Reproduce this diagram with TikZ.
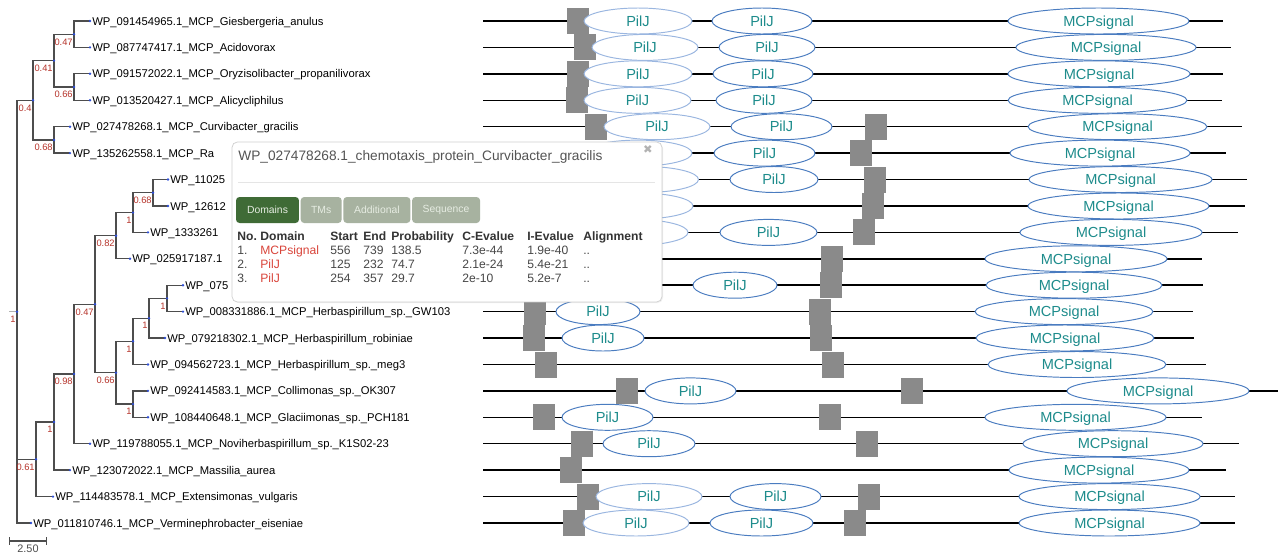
\documentclass[tikz,border=0pt]{standalone}
\usepackage{fontspec}
\setmainfont{Liberation Sans}
\newfontfamily\symfont{DejaVu Sans}
\usepackage{xcolor}
\usepackage{tikz}
\usetikzlibrary{positioning,arrows.meta,shapes.geometric,shadows}

\definecolor{treegray}{HTML}{4D4D4D}
\definecolor{dotblue}{HTML}{2F4FD6}
\definecolor{suppred}{HTML}{B5332A}
\definecolor{domblue}{HTML}{4A7CC0}
\definecolor{domlight}{HTML}{9AB6E0}
\definecolor{domteal}{HTML}{1E8C8C}
\definecolor{tmgray}{HTML}{8A8A8A}
\definecolor{popline}{HTML}{CFCFCF}
\definecolor{tabgreen}{HTML}{3F6B36}
\definecolor{tabgrey}{HTML}{A7B2A0}
\definecolor{tabtxt}{HTML}{E6ECE2}
\definecolor{celltxt}{HTML}{474747}
\definecolor{domred}{HTML}{D9443A}

% one row of the domain table, fixed column widths
\newcommand{\domrow}[8]{\makebox[0.46cm][l]{#1}\makebox[1.4cm][l]{#2}\makebox[0.66cm][l]{#3}\makebox[0.56cm][l]{#4}\makebox[1.42cm][l]{#5}\makebox[1.3cm][l]{#6}\makebox[1.12cm][l]{#7}#8}

\begin{document}
\begin{tikzpicture}[x=0.02cm, y=-0.02cm,
    branch/.style={draw=treegray, line width=0.7pt},
    supp/.style={anchor=north east, inner sep=0pt, xshift=-0.02cm, yshift=-0.08cm,
        text=suppred, font=\fontsize{5.3}{6}\selectfont},
    leaf/.style={anchor=base west, inner sep=0pt, xshift=0.04cm, yshift=-0.08cm,
        font=\fontsize{6.4}{7.5}\selectfont},
    prot/.style={draw=black, line width=0.85pt},
    tm/.style={fill=tmgray, minimum width=0.44cm, minimum height=0.52cm, inner sep=0pt},
    pilj/.style={ellipse, draw=domblue, fill=white, line width=0.55pt, text=domteal,
        minimum height=0.52cm, inner sep=0pt, text depth=0pt,
        font=\fontsize{8.3}{9}\selectfont},
    piljl/.style={pilj, draw=domlight},
    mcp/.style={pilj, minimum width=3.6cm},
    popbox/.style={draw=popline, fill=white, rounded corners=3pt, minimum width=8.6cm,
        minimum height=3.2cm, inner sep=0pt,
        drop shadow={opacity=0.12, shadow xshift=0.6pt, shadow yshift=-0.6pt}},
    tabon/.style={fill=tabgreen, text=tabtxt, rounded corners=2pt, minimum height=0.52cm,
        inner sep=0pt, font=\fontsize{5.9}{7}\selectfont},
    taboff/.style={tabon, fill=tabgrey},
    cell/.style={anchor=base west, inner sep=0pt, text=celltxt, font=\fontsize{6.9}{8}\selectfont}]

\useasboundingbox (0,0) rectangle (1278,555);

% Protein backbones
\coordinate (p1s) at (483,21);     \coordinate (p1e) at (1223,21);
\coordinate (p2s) at (483,47.4);   \coordinate (p2e) at (1231,47.4);
\coordinate (p3s) at (483,73.8);   \coordinate (p3e) at (1223,73.8);
\coordinate (p4s) at (483,100.3);  \coordinate (p4e) at (1222,100.3);
\coordinate (p5s) at (483,126.7);  \coordinate (p5e) at (1242,126.7);
\coordinate (p6s) at (483,153.1);  \coordinate (p6e) at (1226,153.1);
\coordinate (p7s) at (483,179.5);  \coordinate (p7e) at (1247,179.5);
\coordinate (p8s) at (483,206);    \coordinate (p8e) at (1245,206);
\coordinate (p9s) at (483,232.4);  \coordinate (p9e) at (1238,232.4);
\coordinate (p10s) at (483,258.8); \coordinate (p10e) at (1202,258.8);
\coordinate (p11s) at (483,285.2); \coordinate (p11e) at (1203,285.2);
\coordinate (p12s) at (483,311.6); \coordinate (p12e) at (1193,311.6);
\coordinate (p13s) at (483,338);   \coordinate (p13e) at (1194,338);
\coordinate (p14s) at (483,364.5); \coordinate (p14e) at (1206,364.5);
\coordinate (p15s) at (483,390.9); \coordinate (p15e) at (1278,390.9);
\coordinate (p16s) at (483,417.3); \coordinate (p16e) at (1202,417.3);
\coordinate (p17s) at (483,443.7); \coordinate (p17e) at (1239,443.7);
\coordinate (p18s) at (483,470.1); \coordinate (p18e) at (1226,470.1);
\coordinate (p19s) at (483,496.6); \coordinate (p19e) at (1235,496.6);
\coordinate (p20s) at (483,523);   \coordinate (p20e) at (1235,523);
\foreach \i in {1,...,20} {
    \draw[prot] (p\i s) -- (p\i e);
}

% Transmembrane segments (grey boxes)
\node[tm] (r1t) at (578,21) {};
\node[tm] (r2t) at (585,47.4) {};
\node[tm] (r3t) at (578,73.8) {};
\node[tm] (r4t) at (577,100.3) {};
\node[tm] (r5t) at (596,126.7) {};
\node[tm] (r5u) at (876,126.7) {};
\node[tm] (r6u) at (861,153.1) {};
\node[tm] (r7u) at (875,179.5) {};
\node[tm] (r8u) at (873,206) {};
\node[tm] (r9u) at (864,232.4) {};
\node[tm] (r10u) at (832,258.8) {};
\node[tm] (r11u) at (831,285.2) {};
\node[tm] (r12t) at (535,311.6) {};
\node[tm] (r12u) at (820,311.6) {};
\node[tm] (r13t) at (534,338) {};
\node[tm] (r13u) at (821,338) {};
\node[tm] (r14t) at (546,364.5) {};
\node[tm] (r14u) at (833,364.5) {};
\node[tm] (r15t) at (627,390.9) {};
\node[tm] (r15u) at (912,390.9) {};
\node[tm] (r16t) at (544,417.3) {};
\node[tm] (r16u) at (830,417.3) {};
\node[tm] (r17t) at (582,443.7) {};
\node[tm] (r17u) at (867,443.7) {};
\node[tm] (r18t) at (571,470.1) {};
\node[tm] (r19t) at (588,496.6) {};
\node[tm] (r19u) at (869,496.6) {};
\node[tm] (r20t) at (574,523) {};
\node[tm] (r20u) at (855,523) {};

% Domains
\node[piljl, minimum width=2.16cm] (r1a) at (638,21) {PilJ};
\node[pilj, minimum width=2.0cm] (r1b) at (762,21) {PilJ};
\node[mcp, minimum width=3.62cm] (r1m) at (1098.5,21) {MCPsignal};
\node[piljl, minimum width=2.12cm] (r2a) at (645,47.4) {PilJ};
\node[pilj, minimum width=1.92cm] (r2b) at (767,47.4) {PilJ};
\node[mcp] (r2m) at (1106,47.4) {MCPsignal};
\node[piljl, minimum width=2.16cm] (r3a) at (638,73.8) {PilJ};
\node[pilj, minimum width=2.0cm] (r3b) at (763,73.8) {PilJ};
\node[mcp, minimum width=3.64cm] (r3m) at (1099,73.8) {MCPsignal};
\node[piljl, minimum width=2.14cm] (r4a) at (637.5,100.3) {PilJ};
\node[pilj, minimum width=1.92cm] (r4b) at (764,100.3) {PilJ};
\node[mcp, minimum width=3.58cm] (r4m) at (1097.5,100.3) {MCPsignal};
\node[piljl, minimum width=2.12cm] (r5a) at (657,126.7) {PilJ};
\node[pilj, minimum width=2.02cm] (r5b) at (781.5,126.7) {PilJ};
\node[mcp, minimum width=3.58cm] (r5m) at (1117.5,126.7) {MCPsignal};
\node[piljl, minimum width=2.16cm] (r6a) at (638,153.1) {};
\node[pilj, minimum width=2.02cm] (r6b) at (764.5,153.1) {PilJ};
\node[mcp] (r6m) at (1100,153.1) {MCPsignal};
\node[piljl, minimum width=2.16cm] (r7a) at (644.5,179.5) {};
\node[pilj, minimum width=1.76cm] (r7b) at (774,179.5) {PilJ};
\node[mcp, minimum width=3.66cm] (r7m) at (1120.5,179.5) {MCPsignal};
\node[piljl, minimum width=2.16cm] (r8a) at (639,206) {};
\node[mcp, minimum width=3.62cm] (r8m) at (1118.5,206) {MCPsignal};
\node[piljl, minimum width=2.16cm] (r9a) at (634,232.4) {};
\node[pilj, minimum width=1.94cm] (r9b) at (768.5,232.4) {PilJ};
\node[mcp, minimum width=3.64cm] (r9m) at (1111,232.4) {MCPsignal};
\node[mcp, minimum width=3.64cm] (r10m) at (1076,258.8) {MCPsignal};
\node[pilj, minimum width=1.68cm] (r11a) at (735,285.2) {PilJ};
\node[mcp, minimum width=3.52cm] (r11m) at (1074,285.2) {MCPsignal};
\node[pilj, minimum width=1.68cm] (r12a) at (598,311.6) {PilJ};
\node[mcp, minimum width=3.56cm] (r12m) at (1064,311.6) {MCPsignal};
\node[pilj, minimum width=1.64cm] (r13a) at (603,338) {PilJ};
\node[mcp, minimum width=3.56cm] (r13m) at (1065,338) {MCPsignal};
\node[mcp, minimum width=3.56cm] (r14m) at (1077,364.5) {MCPsignal};
\node[pilj, minimum width=1.82cm] (r15a) at (690.5,390.9) {PilJ};
\node[mcp, minimum width=3.64cm] (r15m) at (1158,390.9) {MCPsignal};
\node[pilj, minimum width=1.82cm] (r16a) at (607.5,417.3) {PilJ};
\node[mcp, minimum width=3.62cm] (r16m) at (1075.5,417.3) {MCPsignal};
\node[pilj, minimum width=1.84cm] (r17a) at (649,443.7) {PilJ};
\node[mcp] (r17m) at (1113,443.7) {MCPsignal};
\node[mcp] (r18m) at (1099,470.1) {MCPsignal};
\node[piljl, minimum width=2.12cm] (r19a) at (649,496.6) {PilJ};
\node[pilj, minimum width=1.82cm] (r19b) at (775.5,496.6) {PilJ};
\node[mcp, minimum width=3.62cm] (r19m) at (1109.5,496.6) {MCPsignal};
\node[piljl, minimum width=2.12cm] (r20a) at (636,523) {PilJ};
\node[pilj, minimum width=2.06cm] (r20b) at (761.5,523) {PilJ};
\node[mcp, minimum width=3.62cm] (r20m) at (1109.5,523) {MCPsignal};

% Tree: leaves
\coordinate (l1) at (90,21);
\coordinate (l2) at (90,47.4);
\coordinate (l3) at (90,73.8);
\coordinate (l4) at (90,100.3);
\coordinate (l5) at (70,126.7);
\coordinate (l6) at (70,153.1);
\coordinate (l7) at (168,179.5);
\coordinate (l8) at (168,206);
\coordinate (l9) at (148,232.4);
\coordinate (l10) at (130,258.8);
\coordinate (l11) at (183,285.2);
\coordinate (l12) at (183,311.6);
\coordinate (l13) at (165,338);
\coordinate (l14) at (148,364.5);
\coordinate (l15) at (148,390.9);
\coordinate (l16) at (148,417.3);
\coordinate (l17) at (90,443.7);
\coordinate (l18) at (70,470.1);
\coordinate (l19) at (53,496.6);
\coordinate (l20) at (31,523);

% Tree: inner nodes
\coordinate (n12) at (74,34.2);
\coordinate (n34) at (74,87);
\coordinate (nA) at (54,60.6);
\coordinate (nB) at (54,140);
\coordinate (nC) at (33,100.3);
\coordinate (n78) at (153,192.8);
\coordinate (nD) at (133,212.6);
\coordinate (nE) at (116,235.7);
\coordinate (nF) at (167,298.4);
\coordinate (nG) at (149,318.2);
\coordinate (nH) at (133,341.3);
\coordinate (nI) at (133,404.1);
\coordinate (nJ) at (116,372.7);
\coordinate (nK) at (95,304.2);
\coordinate (nL) at (74,374);
\coordinate (nM) at (54,422);
\coordinate (nN) at (36,459.3);
\coordinate (root) at (17,311.7);
\coordinate (rstub) at (9,311.7);

% Tree: branches
\draw[branch] (n12) |- (l1);  \draw[branch] (n12) |- (l2);
\draw[branch] (n34) |- (l3);  \draw[branch] (n34) |- (l4);
\draw[branch] (nA) |- (n12);  \draw[branch] (nA) |- (n34);
\draw[branch] (nB) |- (l5);   \draw[branch] (nB) |- (l6);
\draw[branch] (nC) |- (nA);   \draw[branch] (nC) |- (nB);
\draw[branch] (n78) |- (l7);  \draw[branch] (n78) |- (l8);
\draw[branch] (nD) |- (n78);  \draw[branch] (nD) |- (l9);
\draw[branch] (nE) |- (nD);   \draw[branch] (nE) |- (l10);
\draw[branch] (nF) |- (l11);  \draw[branch] (nF) |- (l12);
\draw[branch] (nG) |- (nF);   \draw[branch] (nG) |- (l13);
\draw[branch] (nH) |- (nG);   \draw[branch] (nH) |- (l14);
\draw[branch] (nI) |- (l15);  \draw[branch] (nI) |- (l16);
\draw[branch] (nJ) |- (nH);   \draw[branch] (nJ) |- (nI);
\draw[branch] (nK) |- (nE);   \draw[branch] (nK) |- (nJ);
\draw[branch] (nL) |- (nK);   \draw[branch] (nL) |- (l17);
\draw[branch] (nM) |- (nL);   \draw[branch] (nM) |- (l18);
\draw[branch] (nN) |- (nM);   \draw[branch] (nN) |- (l19);
\draw[branch] (root) |- (nC); \draw[branch] (root) |- (nN);
\draw[branch] (root) |- (l20);
\draw[draw=gray!60, line width=0.6pt] (rstub) -- (root);

% node dots
\foreach \c in {l1,l2,l3,l4,l5,l6,l7,l8,l9,l10,l11,l12,l13,l14,l15,l16,l17,l18,l19,l20,
    n12,n34,nA,nB,nC,n78,nD,nE,nF,nG,nH,nI,nJ,nK,nL,nM,nN,root} {
    \fill[dotblue] (\c) circle (0.75pt);
}

% Support values
\node[supp] (s12) at (n12) {0.47};
\node[supp] (s34) at (n34) {0.66};
\node[supp] (sA) at (nA) {0.41};
\node[supp] (sB) at (nB) {0.68};
\node[supp] (sC) at (nC) {0.4};
\node[supp] (s78) at (n78) {0.68};
\node[supp] (sD) at (nD) {1};
\node[supp] (sE) at (nE) {0.82};
\node[supp] (sF) at (nF) {1};
\node[supp] (sG) at (nG) {1};
\node[supp] (sH) at (nH) {1};
\node[supp] (sI) at (nI) {1};
\node[supp] (sJ) at (nJ) {0.66};
\node[supp] (sK) at (nK) {0.47};
\node[supp] (sL) at (nL) {0.98};
\node[supp] (sM) at (nM) {1};
\node[supp] (sN) at (nN) {0.61};
\node[supp] (sroot) at (root) {1};

% Leaf names
\node[leaf] (t1) at (l1) {WP\_091454965.1\_MCP\_Giesbergeria\_anulus};
\node[leaf] (t2) at (l2) {WP\_087747417.1\_MCP\_Acidovorax};
\node[leaf] (t3) at (l3) {WP\_091572022.1\_MCP\_Oryzisolibacter\_propanilivorax};
\node[leaf] (t4) at (l4) {WP\_013520427.1\_MCP\_Alicycliphilus};
\node[leaf] (t5) at (l5) {WP\_027478268.1\_MCP\_Curvibacter\_gracilis};
\node[leaf] (t6) at (l6) {WP\_135262558.1\_MCP\_Ra};
\node[leaf] (t7) at (l7) {WP\_11025};
\node[leaf] (t8) at (l8) {WP\_12612};
\node[leaf] (t9) at (l9) {WP\_1333261};
\node[leaf] (t10) at (l10) {WP\_025917187.1};
\node[leaf] (t11) at (l11) {WP\_075};
\node[leaf] (t12) at (l12) {WP\_008331886.1\_MCP\_Herbaspirillum\_sp.\_GW103};
\node[leaf] (t13) at (l13) {WP\_079218302.1\_MCP\_Herbaspirillum\_robiniae};
\node[leaf] (t14) at (l14) {WP\_094562723.1\_MCP\_Herbaspirillum\_sp.\_meg3};
\node[leaf] (t15) at (l15) {WP\_092414583.1\_MCP\_Collimonas\_sp.\_OK307};
\node[leaf] (t16) at (l16) {WP\_108440648.1\_MCP\_Glaciimonas\_sp.\_PCH181};
\node[leaf] (t17) at (l17) {WP\_119788055.1\_MCP\_Noviherbaspirillum\_sp.\_K1S02-23};
\node[leaf] (t18) at (l18) {WP\_123072022.1\_MCP\_Massilia\_aurea};
\node[leaf] (t19) at (l19) {WP\_114483578.1\_MCP\_Extensimonas\_vulgaris};
\node[leaf] (t20) at (l20) {WP\_011810746.1\_MCP\_Verminephrobacter\_eiseniae};

% Scale bar
\coordinate (sb1) at (9,541);
\coordinate (sb2) at (47,541);
\draw[treegray, line width=0.7pt, {Bar[width=4.5pt]}-{Bar[width=4.5pt]}] (sb1) -- (sb2);
\node[font=\fontsize{6.2}{7}\selectfont, anchor=north, inner sep=0pt, text=treegray]
    (sblab) at (28,545) {2.50};

% Popup with the domain table
\node[popbox] (pop) at (447,222) {};
\node[anchor=west, inner sep=0pt, text=black!67, font=\fontsize{7.8}{9}\selectfont]
    (ptitle) at (238,157) {WP\_027478268.1\_chemotaxis\_protein\_Curvibacter\_gracilis};
\node[inner sep=0pt, text=black!30, font=\symfont\fontsize{6.5}{7}\selectfont]
    (pclose) at (648,150) {✖};
\draw[black!10, line width=0.4pt] (238,182) -- (655,182);

\node[tabon, minimum width=1.26cm] (tdom) at (267.5,210) {Domains};
\node[taboff, minimum width=0.82cm, right=0.02cm of tdom] (ttms) {TMs};
\node[taboff, minimum width=1.34cm, right=0.02cm of ttms] (tadd) {Additional};
\node[taboff, minimum width=1.36cm, right=0.02cm of tadd] (tseq) {Sequence};

\node[cell, text=black!80] (hdr) at (237,240)
    {\bfseries\domrow{No.}{Domain}{Start}{End}{Probability}{C-Evalue}{I-Evalue}{Alignment}};
\node[cell] (dr1) at (237,254)
    {\domrow{1.}{\textcolor{domred}{MCPsignal}}{556}{739}{138.5}{7.3e-44}{1.9e-40}{..}};
\node[cell] (dr2) at (237,268)
    {\domrow{2.}{\textcolor{domred}{PilJ}}{125}{232}{74.7}{2.1e-24}{5.4e-21}{..}};
\node[cell] (dr3) at (237,282)
    {\domrow{3.}{\textcolor{domred}{PilJ}}{254}{357}{29.7}{2e-10}{5.2e-7}{..}};

\end{tikzpicture}
\end{document}
